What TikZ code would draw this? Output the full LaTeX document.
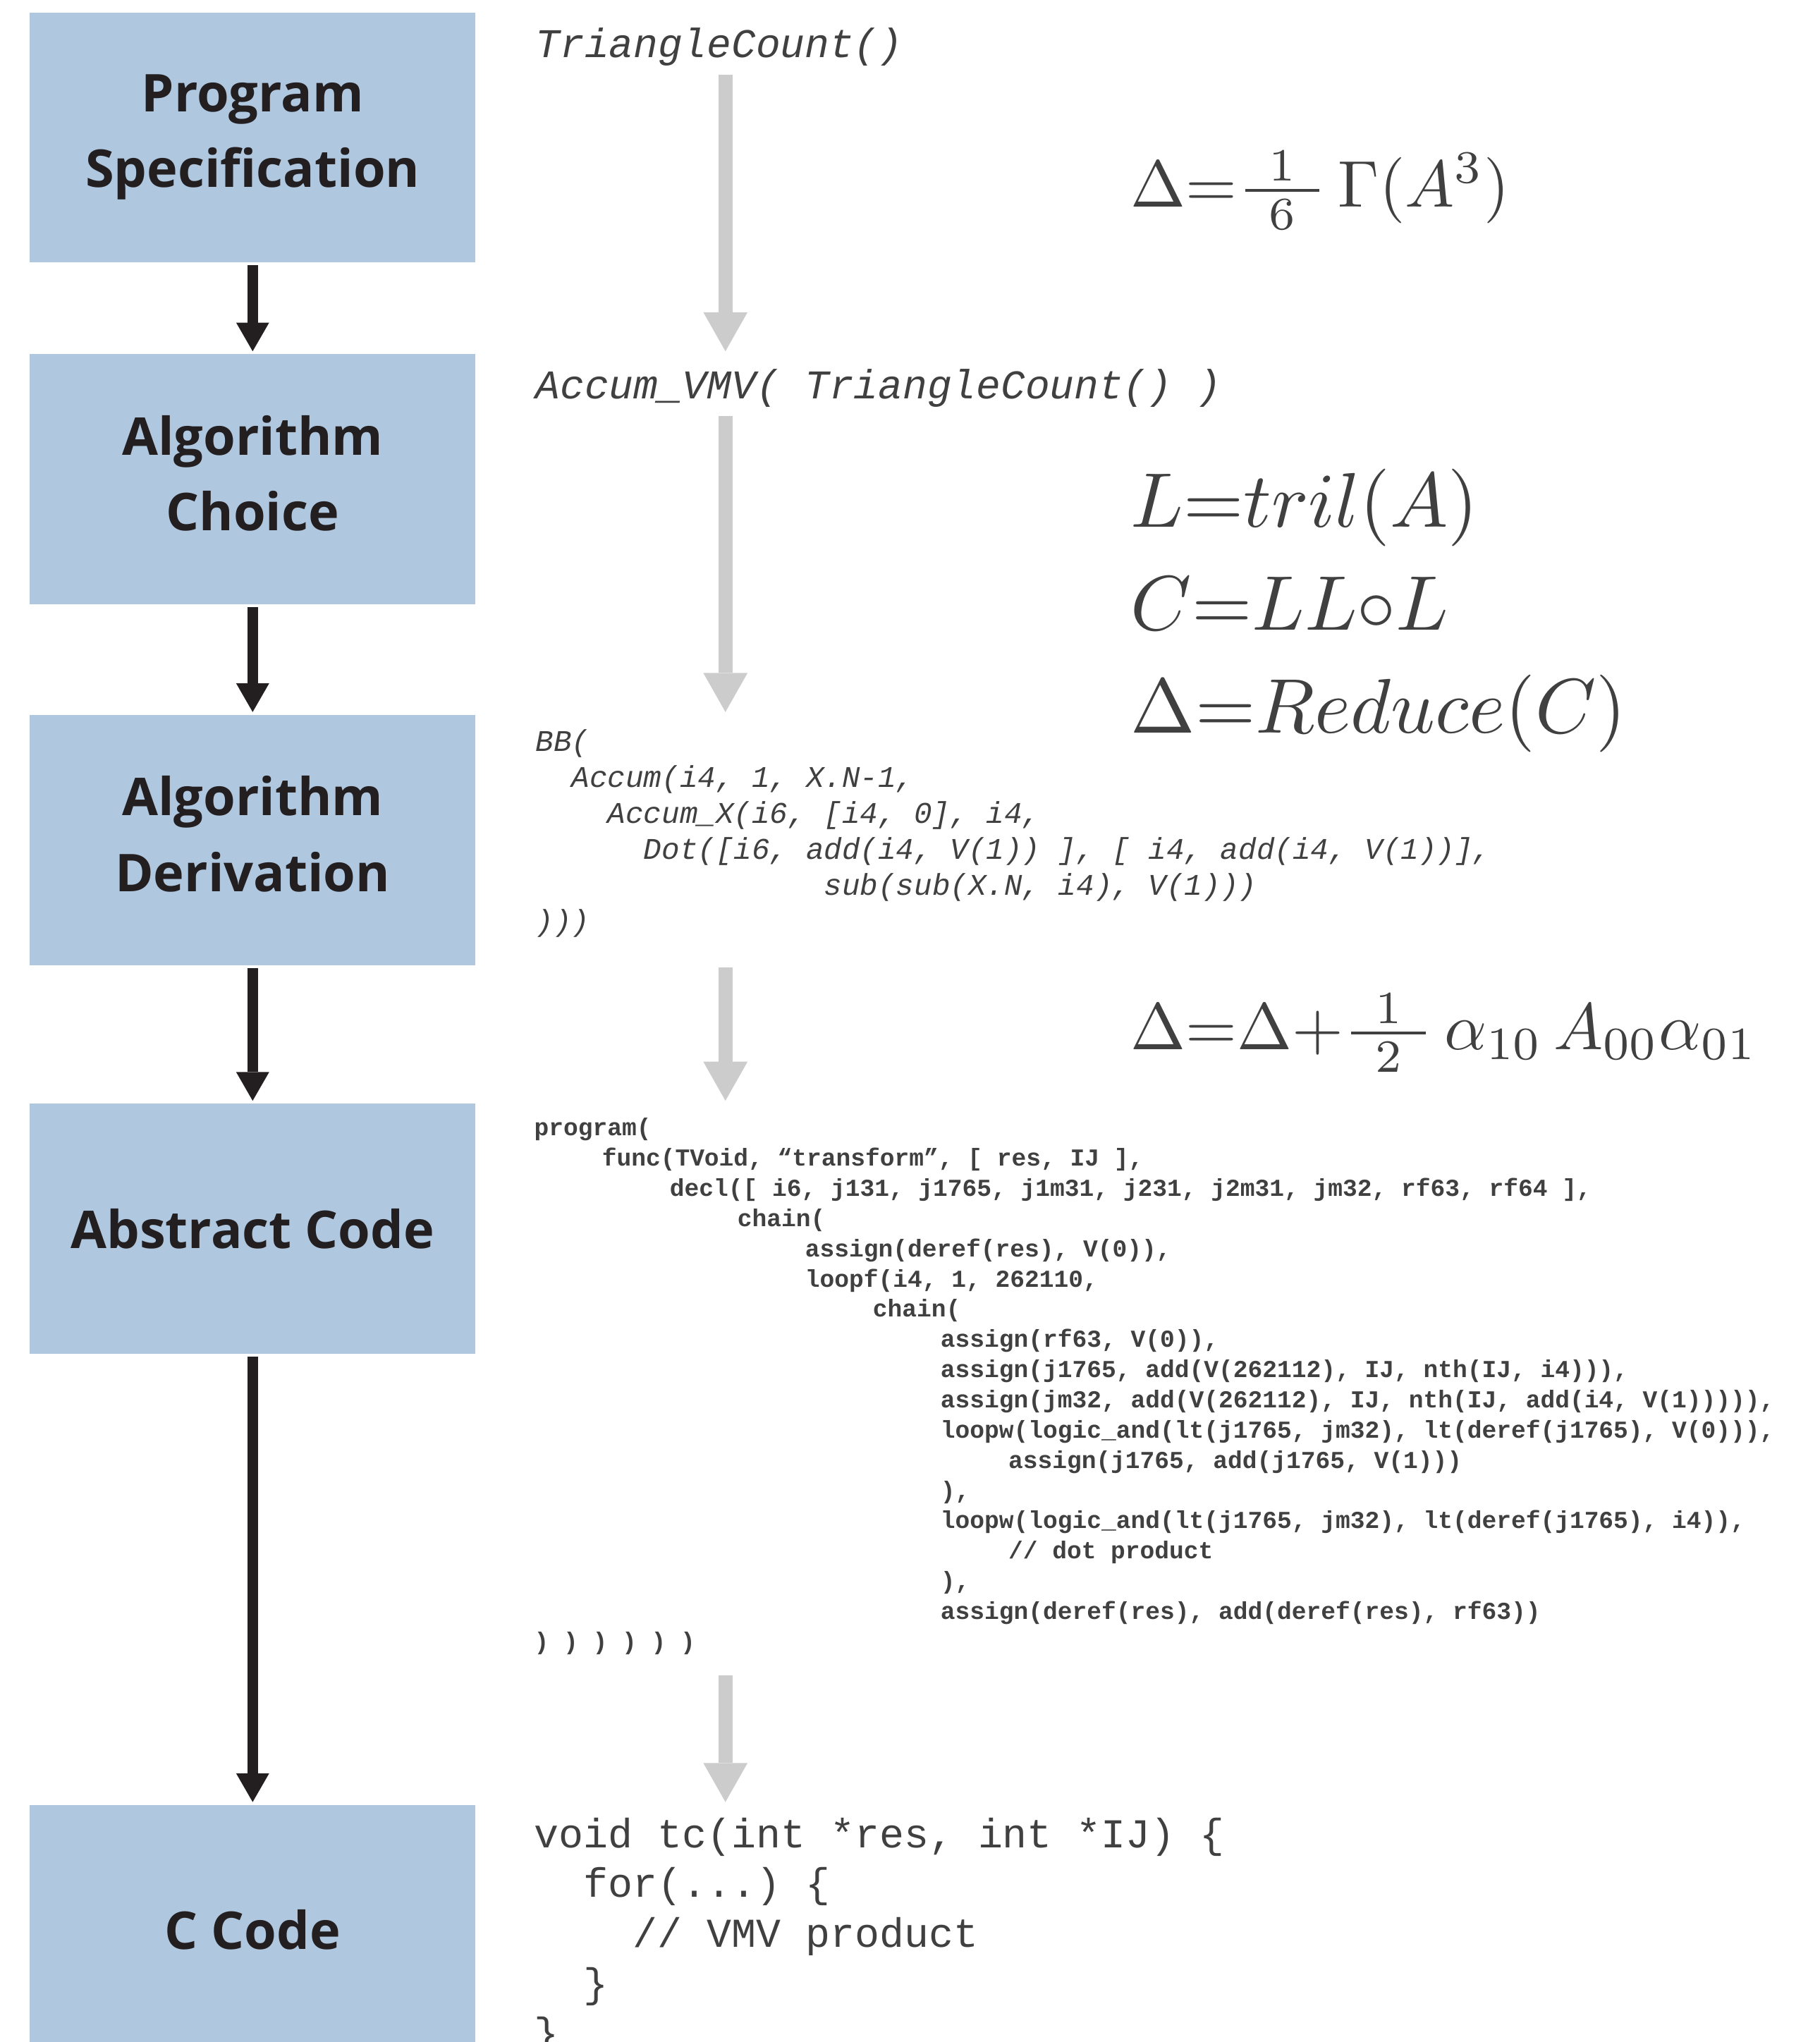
\documentclass[tikz,border=0pt]{standalone}
\usepackage{amsmath, amsfonts, amssymb}
\usepackage{graphicx}
\usepackage{fontspec}
\usepackage{tikz}
\setmonofont{Liberation Mono}
\newfontfamily\labelfont{Open Sans}
\usetikzlibrary{arrows.meta}

\definecolor{stageblue}{RGB}{176,199,224}
\definecolor{stageink}{RGB}{35,31,32}
\definecolor{codeink}{RGB}{64,64,64}
\definecolor{refinegray}{RGB}{204,204,204}

\newlength{\tabw}
\setlength{\tabw}{39pt}
\newcommand{\tb}[1]{\hspace*{#1\tabw}}
\newcommand{\wfrac}[2]{\tfrac{\mkern8mu#1\mkern8mu}{\mkern8mu#2\mkern8mu}}
\frenchspacing

\begin{document}
\begin{tikzpicture}[x=0.75pt,y=0.75pt,yscale=-1,xscale=1,
  stage/.style={fill=stageblue, minimum width=256.5pt, minimum height=144pt, inner sep=0pt, align=center, text=stageink, font=\labelfont\bfseries\fontsize{30}{43.5}\selectfont},
  flow/.style={draw=stageink, line width=6.3pt, -{Triangle[width=19pt,length=16.5pt,line width=0pt]}, shorten <=1.5pt, shorten >=1.5pt},
  refine/.style={draw=refinegray, line width=8pt, -{Triangle[width=25.5pt,length=22.5pt,line width=0pt]}, shorten >=1.5pt},
  code/.style={anchor=west, inner sep=0pt, align=left, text=codeink},
  bigcode/.style={code, font=\ttfamily\itshape\fontsize{23.5}{28}\selectfont},
  eqn/.style={anchor=base west, inner sep=0pt, text=codeink}
]
\useasboundingbox (0,0) rectangle (1397,1568);

%Stages: Rectangles
\node[stage] (spec) at (194,105.5) {Program\\Specification};
\node[stage] (choice) at (194,368) {Algorithm\\Choice\vphantom{p}};
\node[stage] (deriv) at (194,645) {Algorithm\\Derivation\vphantom{p}};
\node[stage] (abs) at (194,943.5) {Abstract Code};
\node[stage] (ccode) at (194,1482) {C Code};

%Straight Lines: stage to stage
\draw[flow] (spec) -- (choice);
\draw[flow] (choice) -- (deriv);
\draw[flow] (deriv) -- (abs);
\draw[flow] (abs) -- (ccode);

%Code: specification and choice
\node[bigcode] (spectext) at (411,36) {TriangleCount()};
\node[bigcode] (choicetext) at (411,298) {Accum\_VMV( TriangleCount() )};

%Code: derivation
\node[code, font=\ttfamily\itshape\fontsize{17.3}{20.7}\selectfont] (derivtext) at (411,640) {BB(\\
~~Accum(i4, 1, X.N-1,\\
~~~~Accum\_X(i6, [i4, 0], i4,\\
~~~~~~Dot([i6, add(i4, V(1)) ], [ i4, add(i4, V(1))],\\
~~~~~~~~~~~~~~~~sub(sub(X.N, i4), V(1)))\\
)))};

%Code: abstract code
\node[code, font=\ttfamily\bfseries\fontsize{14.04}{17.4}\selectfont] (abstext) at (410,1064.5) {program(\\
\tb{1}func(TVoid, “transform”, [ res, IJ ],\\
\tb{2}decl([ i6, j131, j1765, j1m31, j231, j2m31, jm32, rf63, rf64 ],\\
\tb{3}chain(\\
\tb{4}assign(deref(res), V(0)),\\
\tb{4}loopf(i4, 1, 262110,\\
\tb{5}chain(\\
\tb{6}assign(rf63, V(0)),\\
\tb{6}assign(j1765, add(V(262112), IJ, nth(IJ, i4))),\\
\tb{6}assign(jm32, add(V(262112), IJ, nth(IJ, add(i4, V(1))))),\\
\tb{6}loopw(logic\_and(lt(j1765, jm32), lt(deref(j1765), V(0))),\\
\tb{7}assign(j1765, add(j1765, V(1)))\\
\tb{6}),\\
\tb{6}loopw(logic\_and(lt(j1765, jm32), lt(deref(j1765), i4)),\\
\tb{7}// dot product\\
\tb{6}),\\
\tb{6}assign(deref(res), add(deref(res), rf63))\\
) ) ) ) ) )};

%Code: C code
\node[code, font=\ttfamily\fontsize{23.66}{28.7}\selectfont] (ctext) at (410,1487) {void tc(int *res, int *IJ) \{\\
~~for(...) \{\\
~~~~// VMV product\\
~~\}\\
\}};

%Formulas
\node[eqn] (speceq) at (868,159) {\scalebox{3.8}{$\Delta{=}\wfrac{1}{6}\,\Gamma(A^3)$}};
\node[eqn] (trileq) at (868,404.5) {\scalebox{4.46}{$L{=}tril(A)$}};
\node[eqn] (hadeq) at (868,483.6) {\scalebox{4.46}{$C{=}LL{\circ}L$}};
\node[eqn] (reduceeq) at (868,563) {\scalebox{4.46}{$\Delta{=}Reduce(C)$}};
\node[eqn] (deriveq) at (868,806) {\scalebox{3.8}{$\Delta{=}\Delta{+}\wfrac{1}{2}\,\alpha_{10}\,A_{00}\alpha_{01}$}};

%Straight Lines: refinement steps
\coordinate (gx) at (557,0);
\draw[refine, shorten <=4.75pt] (spectext.south -| gx) -- (choice.north -| gx);
\draw[refine, shorten <=4.75pt] (choicetext.south -| gx) -- (deriv.north -| gx);
\draw[refine, shorten <=1pt] (deriv.south -| gx) -- (abs.north -| gx);
\draw[refine, shorten <=12pt] (abstext.south -| gx) -- (ccode.north -| gx);

\end{tikzpicture}
\end{document}
